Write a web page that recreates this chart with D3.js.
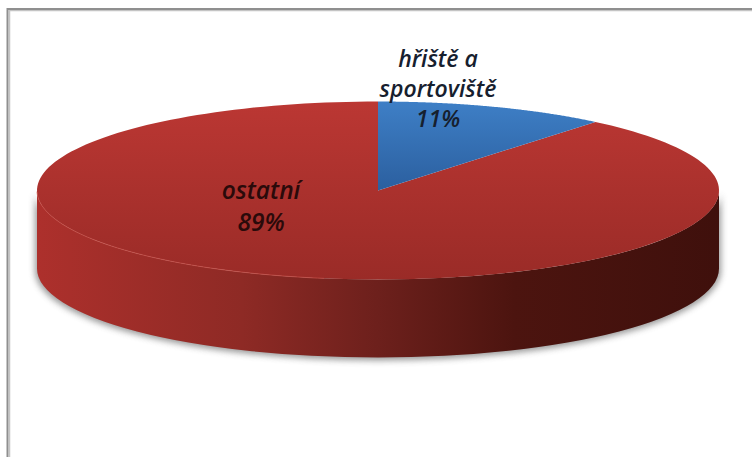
<!DOCTYPE html>
<html><head><meta charset="utf-8">
<style>html,body{margin:0;padding:0;background:#fff;overflow:hidden}svg{display:block}</style>
<script src="https://cdn.jsdelivr.net/npm/d3@7/dist/d3.min.js"></script>
</head><body>
<svg id="c" width="752" height="457"></svg>
<script>
const categories = ["hřiště a sportoviště", "ostatní"];
const labelLines = [["hřiště a", "sportoviště", "11%"], ["ostatní", "89%"]];
const values = [11, 89];
const topStops = [["#3e7fc6", "#2b5f9f"], ["#bb3733", "#9a2b27"]];
const wallStops = [[0, "#ad302c"], [0.3, "#8e2a25"], [0.5, "#6d201c"], [0.7, "#4c140f"], [1, "#3f100c"]];

const W = 752, H = 457;
const cx = 378, cy = 190.5, rx = 341, ry = 89, depth = 78;
const svg = d3.select("#c");
const defs = svg.append("defs");

const blur = defs.append("filter").attr("id", "blur").attr("filterUnits", "userSpaceOnUse")
  .attr("x", 0).attr("y", 0).attr("width", W).attr("height", H);
blur.append("feGaussianBlur").attr("stdDeviation", 3);

const wallG = defs.append("linearGradient").attr("id", "wall").attr("x1", 0).attr("x2", 1).attr("y1", 0).attr("y2", 0);
wallStops.forEach(s => wallG.append("stop").attr("offset", s[0]).attr("stop-color", s[1]));

categories.forEach((c, i) => {
  const g = defs.append("linearGradient").attr("id", "face" + i)
    .attr("gradientUnits", "userSpaceOnUse").attr("x1", 0).attr("x2", 0)
    .attr("y1", cy - ry).attr("y2", i === 0 ? cy : cy + ry);
  g.append("stop").attr("offset", 0).attr("stop-color", topStops[i][0]);
  g.append("stop").attr("offset", 1).attr("stop-color", topStops[i][1]);
});

// frame: darker outer line with a paler inner edge
svg.append("path").attr("d", `M9.5,${H}V10.5H${W}`).attr("fill", "none").attr("stroke", "#c4c4c4").attr("stroke-width", 1.5);
svg.append("path").attr("d", `M7.5,${H}V9H${W}`).attr("fill", "none").attr("stroke", "#8f8f8f").attr("stroke-width", 2);

// unit-circle geometry scaled to the ellipse
const sx = d3.scaleLinear().domain([-1, 1]).range([cx - rx, cx + rx]);
const sy = d3.scaleLinear().domain([-1, 1]).range([cy - ry, cy + ry]);
const wallShape = () => {
  const p = d3.path(), d = depth / ry;
  p.moveTo(-1, 0);
  p.arc(0, d, 1, Math.PI, 0, true);
  p.lineTo(1, 0);
  p.arc(0, 0, 1, 0, Math.PI, false);
  p.closePath();
  return p.toString();
};
const place = `translate(${sx(0)},${sy(0)}) scale(${rx},${ry})`;

// soft shadow: blur applied on an unscaled wrapper so its radius stays in pixels
svg.append("g").attr("filter", "url(#blur)").attr("opacity", 0.6)
  .append("path").attr("d", wallShape())
  .attr("transform", `translate(${sx(0)},${sy(0) + 1}) scale(${rx + 2},${ry + 1})`)
  .attr("fill", "#555");
// side wall
svg.append("path").attr("d", wallShape()).attr("transform", place).attr("fill", "url(#wall)");

// top face
const pie = d3.pie().sort(null);
const arcs = pie(values);
const faceG = svg.append("g");
[1, 0].forEach(i => {
  const a = arcs[i], n = d3.path();
  const steps = 180;
  n.moveTo(sx(0), sy(0));
  d3.range(steps + 1).forEach(k => {
    const t = a.startAngle + (a.endAngle - a.startAngle) * k / steps;
    n.lineTo(sx(Math.sin(t)), sy(-Math.cos(t)));
  });
  n.closePath();
  faceG.append("path").attr("d", n.toString()).attr("fill", `url(#face${i})`);
});
// thin highlight on front rim, left side
svg.append("path").attr("fill", "none").attr("stroke", "#c9524c").attr("stroke-width", 1).attr("opacity", .7)
  .attr("d", d3.line().x(t => sx(Math.sin(t))).y(t => sy(-Math.cos(t)))(d3.range(3.3, 4.7, 0.02)));

// labels
const labelPos = [[438, 67], [261, 199]];
const labelSize = [23, 24.5];
const lineH = [30, 32];
labelLines.forEach((lines, i) => {
  const t = svg.append("text").attr("text-anchor", "middle")
    .attr("font-family", "'Open Sans',sans-serif").attr("font-style", "italic").attr("font-weight", 600)
    .attr("font-size", labelSize[i]).attr("fill", i === 0 ? "#16202e" : "#2a0a0a");
  lines.forEach((l, k) => {
    t.append("tspan").attr("x", labelPos[i][0]).attr("y", labelPos[i][1] + k * lineH[i]).text(l);
  });
});
</script>
</body></html>
